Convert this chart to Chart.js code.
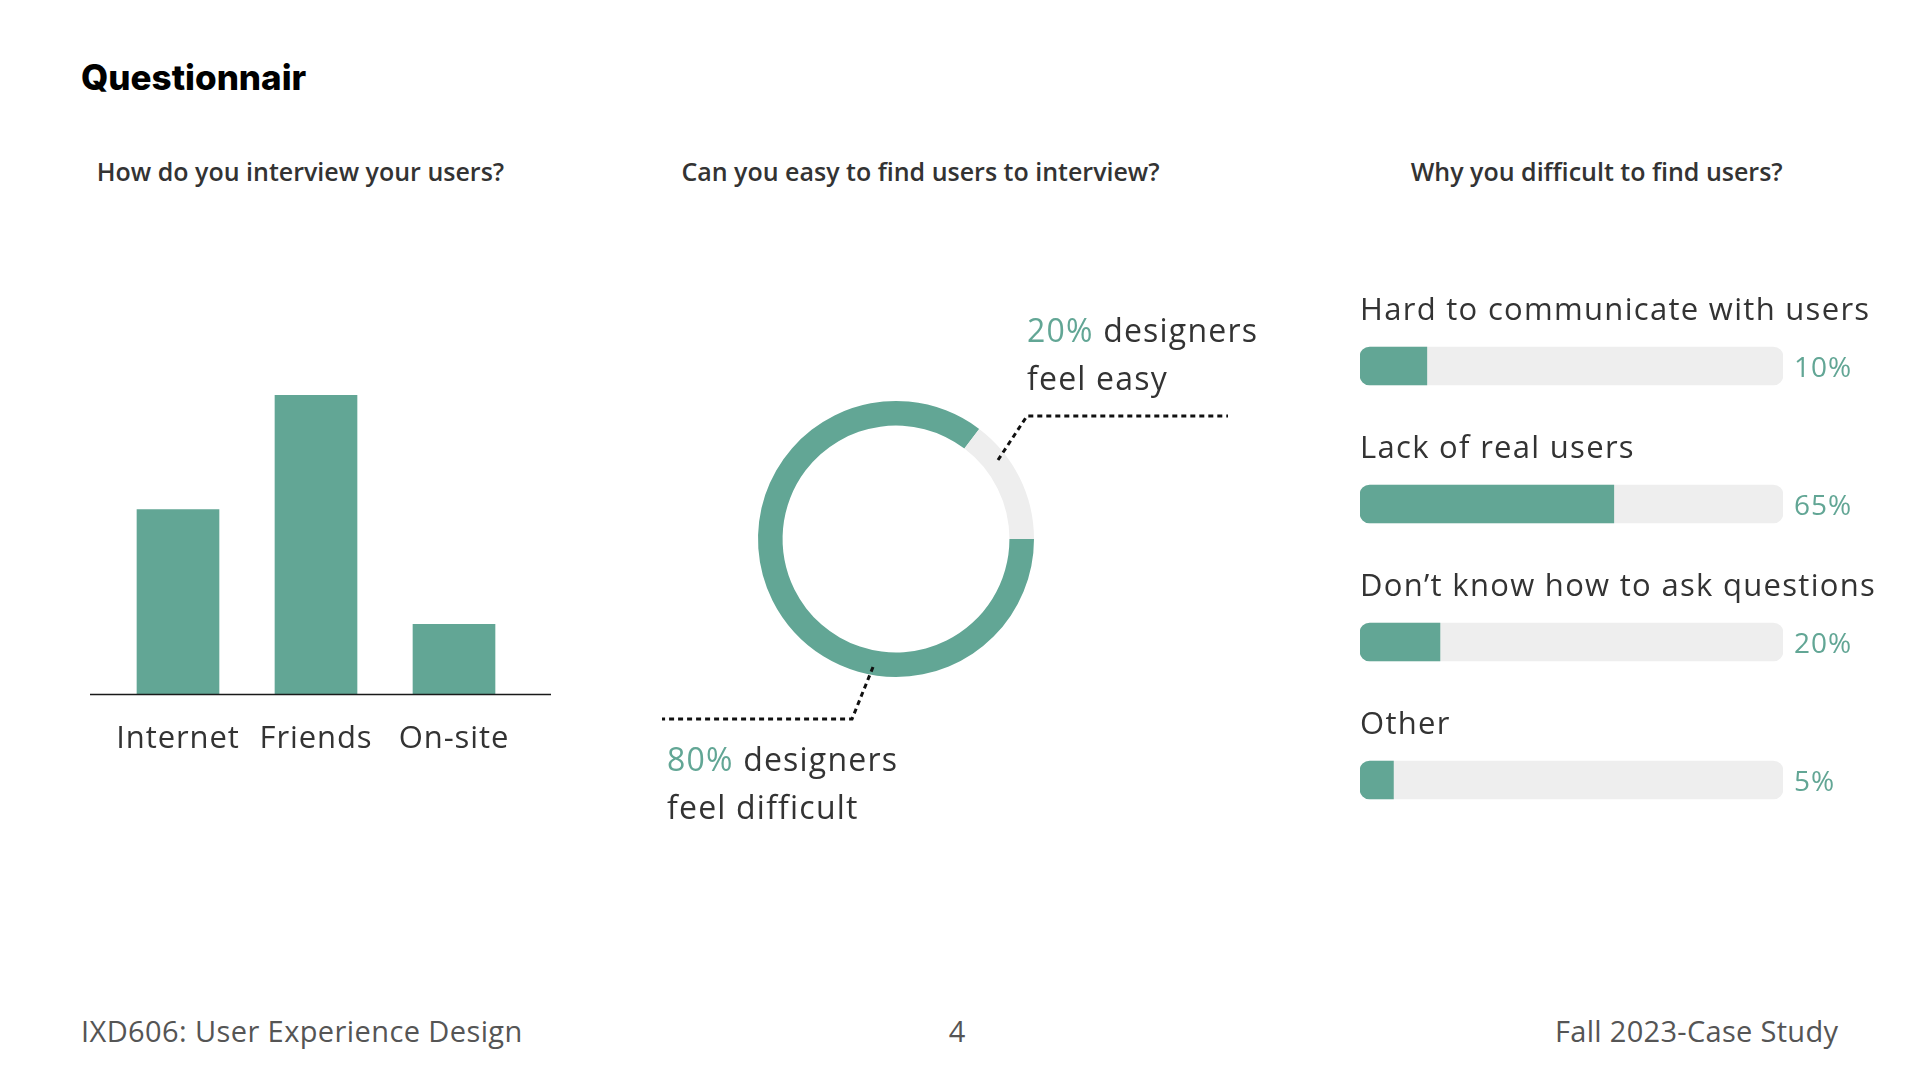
<!DOCTYPE html>
<html>
<head>
<meta charset="utf-8">
<script src="https://cdn.jsdelivr.net/npm/chart.js@4.4.0/dist/chart.umd.min.js"></script>
<style>
  html, body { margin: 0; padding: 0; background: #ffffff; }
  body { width: 1920px; height: 1080px; position: relative; overflow: hidden; font-family: 'Open Sans', sans-serif; }
  .t { position: absolute; white-space: nowrap; margin: 0; }
  .box { position: absolute; }
  canvas { display: block; }
</style>
</head>
<body>

<div class="t" data-x="81" data-base="90" data-size="35" data-weight="800" data-family="Inter" data-color="#000000" data-align="left" data-ls="0">Questionnair</div>

<div class="t" data-x="300.5" data-base="181" data-size="25" data-weight="600" data-family="Open Sans" data-color="#333333" data-align="center" data-ls="0">How do you interview your users?</div>
<div class="t" data-x="920.5" data-base="181" data-size="25" data-weight="600" data-family="Open Sans" data-color="#333333" data-align="center" data-ls="0">Can you easy to find users to interview?</div>
<div class="t" data-x="1596.7" data-base="181" data-size="25" data-weight="600" data-family="Open Sans" data-color="#333333" data-align="center" data-ls="0">Why you difficult to find users?</div>

<div class="t" data-x="81" data-base="1042" data-size="29" data-weight="400" data-family="Open Sans" data-color="#555555" data-align="left" data-ls="0.4">IXD606: User Experience Design</div>
<div class="t" data-x="957" data-base="1042" data-size="29" data-weight="400" data-family="Open Sans" data-color="#555555" data-align="center" data-ls="0">4</div>
<div class="t" data-x="1838" data-base="1042" data-size="29" data-weight="400" data-family="Open Sans" data-color="#555555" data-align="right" data-ls="0.3">Fall 2023-Case Study</div>

<div class="box" style="left:70px; top:395px; width:510px; height:400px;"><canvas id="barChart" width="510" height="400"></canvas></div>
<div class="box" style="left:640px; top:300px; width:680px; height:540px;"><canvas id="donutChart" width="680" height="540"></canvas></div>
<div class="box" style="left:1340px; top:280px; width:580px; height:580px;"><canvas id="reasonChart" width="580" height="580"></canvas></div>

<script>
// ---------- Data ----------
const interviewCategories = ['Internet', 'Friends', 'On-site'];
const interviewValues = [37, 60, 14];

const easeCategories = ['feel difficult', 'feel easy'];
const easeValues = [85.3, 14.7];          // arc proportions as drawn
const easeLabels = ['80%', '20%'];

const reasonCategories = ['Hard to communicate with users', 'Lack of real users', 'Don\u2019t know how to ask questions', 'Other'];
const reasonValues = [15.8, 60, 18.9, 7.9]; // bar fill as drawn
const reasonTrack = [100, 100, 100, 100];
const reasonLabels = ['10%', '65%', '20%', '5%'];

// ---------- Style ----------
const TEAL = '#62a695';
const TRACK = '#eeeeee';
const DARK = '#333333';
const FONT = "'Open Sans', sans-serif";

// ---------- HTML text placement by baseline ----------
const mctx = document.createElement('canvas').getContext('2d');
document.querySelectorAll('.t').forEach(el => {
  const d = el.dataset;
  const fam = `'${d.family}', sans-serif`;
  const size = parseFloat(d.size);
  mctx.font = `${d.weight} ${size}px ${fam}`;
  const m = mctx.measureText(el.textContent);
  const A = m.fontBoundingBoxAscent, D = m.fontBoundingBoxDescent;
  el.style.font = `${d.weight} ${size}px ${fam}`;
  el.style.letterSpacing = (d.ls || 0) + 'px';
  el.style.color = d.color;
  el.style.lineHeight = (A + D) + 'px';
  el.style.top = (parseFloat(d.base) - A) + 'px';
  el.style.left = '0px';
  const w = el.getBoundingClientRect().width - parseFloat(d.ls || 0);
  let left = parseFloat(d.x);
  if (d.align === 'center') left -= w / 2;
  if (d.align === 'right') left -= w;
  el.style.left = left + 'px';
});

// ---------- Chart 1: bar chart ----------
const baselinePlugin = {
  id: 'baseline',
  beforeDraw(chart) { chart.ctx.letterSpacing = '0.9px'; },
  afterDatasetsDraw(chart) {
    const { ctx, chartArea: a } = chart;
    ctx.save();
    ctx.strokeStyle = '#1a1a1a';
    ctx.lineWidth = 1.5;
    ctx.beginPath();
    ctx.moveTo(a.left - 19, a.bottom + 0.5);
    ctx.lineTo(a.right + 28, a.bottom + 0.5);
    ctx.stroke();
    ctx.restore();
  }
};

new Chart(document.getElementById('barChart'), {
  type: 'bar',
  data: {
    labels: interviewCategories,
    datasets: [{ data: interviewValues, backgroundColor: TEAL, barThickness: 82, borderWidth: 0 }]
  },
  options: {
    responsive: false,
    animation: false,
    events: [],
    layout: { padding: { left: 39, right: 57, top: 0, bottom: 0 } },
    plugins: { legend: { display: false }, tooltip: { enabled: false } },
    scales: {
      x: {
        grid: { display: false, drawTicks: false },
        border: { display: false },
        ticks: { color: DARK, font: { family: FONT, size: 31 }, padding: 27, maxRotation: 0 },
        afterFit(scale) { scale.height = 101; }
      },
      y: { display: false, min: 0, max: 60 }
    }
  },
  plugins: [baselinePlugin]
});

// ---------- Chart 2: doughnut ----------
const leaderPlugin = {
  id: 'leaders',
  afterDraw(chart) {
    const { ctx } = chart;
    const arc = chart.getDatasetMeta(0).data[0];
    const cx = arc.x, cy = arc.y;
    ctx.save();
    ctx.strokeStyle = '#111111';
    ctx.lineWidth = 3;
    ctx.setLineDash([5, 4]);
    ctx.beginPath();
    ctx.moveTo(cx + 102, cy - 79);
    ctx.lineTo(cx + 131, cy - 123);
    ctx.lineTo(cx + 332, cy - 123);
    ctx.stroke();
    ctx.beginPath();
    ctx.moveTo(cx - 23, cy + 128);
    ctx.lineTo(cx - 44, cy + 180);
    ctx.lineTo(cx - 234, cy + 180);
    ctx.stroke();
    ctx.setLineDash([]);

    ctx.font = `400 32px ${FONT}`;
    ctx.letterSpacing = '1.2px';
    ctx.textBaseline = 'alphabetic';
    ctx.textAlign = 'left';
    const drawPair = (pct, x, y) => {
      ctx.fillStyle = TEAL;
      ctx.fillText(pct, x, y);
      const w = ctx.measureText(pct + ' ').width;
      ctx.fillStyle = DARK;
      ctx.fillText('designers', x + w, y);
    };
    drawPair(easeLabels[1], cx + 131, cy - 197);
    ctx.fillStyle = DARK;
    ctx.fillText(easeCategories[1], cx + 131, cy - 149);
    drawPair(easeLabels[0], cx - 229, cy + 232);
    ctx.fillStyle = DARK;
    ctx.fillText(easeCategories[0], cx - 229, cy + 280);
    ctx.restore();
  }
};

new Chart(document.getElementById('donutChart'), {
  type: 'doughnut',
  data: {
    labels: easeCategories,
    datasets: [{ data: easeValues, backgroundColor: [TEAL, TRACK], borderWidth: 0, hoverOffset: 0 }]
  },
  options: {
    responsive: false,
    animation: false,
    events: [],
    rotation: 90,
    cutout: '82.2%',
    layout: { padding: { left: 118, top: 101, right: 286, bottom: 163 } },
    plugins: { legend: { display: false }, tooltip: { enabled: false } }
  },
  plugins: [leaderPlugin]
});

// ---------- Chart 3: horizontal progress bars ----------
const reasonLabelPlugin = {
  id: 'reasonLabels',
  afterDatasetsDraw(chart) {
    const { ctx, chartArea: a } = chart;
    const ys = chart.scales.y, xs = chart.scales.x;
    ctx.save();
    ctx.textBaseline = 'alphabetic';
    ctx.textAlign = 'left';
    reasonCategories.forEach((lab, i) => {
      const cy = ys.getPixelForValue(i);
      ctx.font = `400 31px ${FONT}`;
      ctx.letterSpacing = '1.3px';
      ctx.fillStyle = DARK;
      ctx.fillText(lab, a.left, cy - 46);
      ctx.font = `400 28px ${FONT}`;
      ctx.letterSpacing = '1px';
      ctx.fillStyle = TEAL;
      ctx.fillText(reasonLabels[i], xs.getPixelForValue(reasonTrack[i]) + 11, cy + 11);
    });
    ctx.restore();
  }
};

new Chart(document.getElementById('reasonChart'), {
  type: 'bar',
  data: {
    labels: reasonCategories,
    datasets: [
      { data: reasonValues, backgroundColor: TEAL, barThickness: 38, grouped: false, order: 0,
        borderSkipped: false, borderWidth: 0,
        borderRadius: { topLeft: 10, bottomLeft: 10, topRight: 0, bottomRight: 0 } },
      { data: reasonTrack, backgroundColor: TRACK, barThickness: 38, grouped: false, order: 1,
        borderSkipped: false, borderWidth: 0, borderRadius: 10 }
    ]
  },
  options: {
    indexAxis: 'y',
    responsive: false,
    animation: false,
    events: [],
    layout: { padding: { left: 20, right: 137, top: 17, bottom: 11 } },
    plugins: { legend: { display: false }, tooltip: { enabled: false } },
    scales: {
      x: { display: false, min: 0, max: 100 },
      y: { display: false }
    }
  },
  plugins: [reasonLabelPlugin]
});
</script>
</body>
</html>
